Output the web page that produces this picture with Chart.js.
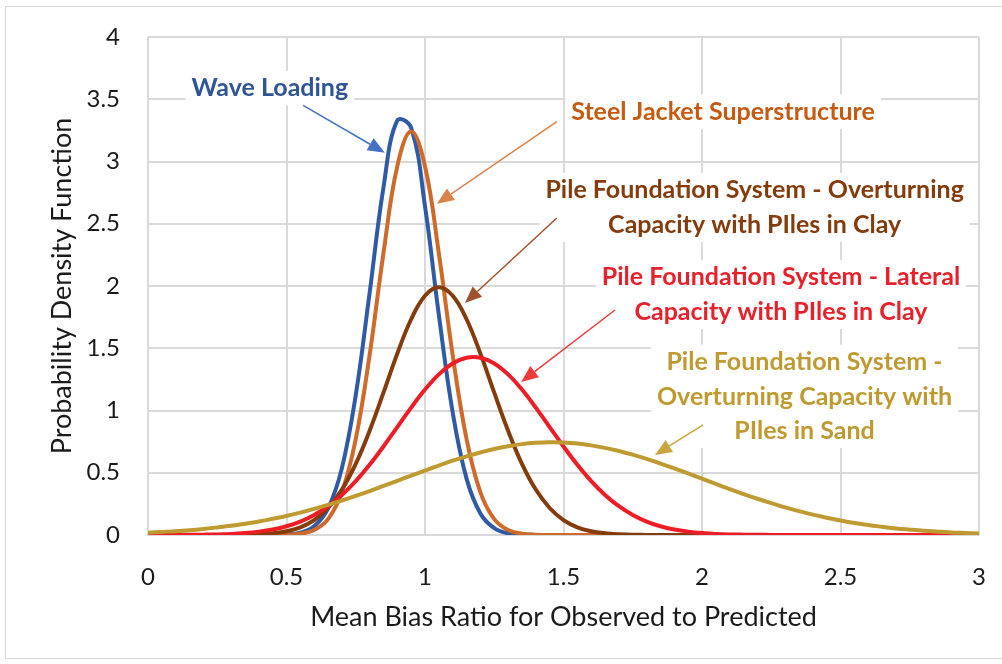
<!DOCTYPE html>
<html>
<head>
<meta charset="utf-8">
<script src="https://cdn.jsdelivr.net/npm/chart.js@4.4.1/dist/chart.umd.min.js"></script>
<style>
  html, body { margin: 0; padding: 0; background: #fff; }
  #wrap { width: 1002px; height: 664px; }
</style>
</head>
<body>
<div id="wrap"><canvas id="chart" width="1002" height="664"></canvas></div>
<script>
// x positions (Mean Bias Ratio), shared by every curve
const xValues = [
  0, 0.05, 0.1, 0.15, 0.2, 0.25, 0.3, 0.35, 0.4, 0.45,
  0.5, 0.55, 0.6, 0.65, 0.7, 0.75, 0.8, 0.85, 0.9, 0.95,
  1, 1.05, 1.1, 1.15, 1.2, 1.25, 1.3, 1.35, 1.4, 1.45,
  1.5, 1.55, 1.6, 1.65, 1.7, 1.75, 1.8, 1.85, 1.9, 1.95,
  2, 2.05, 2.1, 2.15, 2.2, 2.25, 2.3, 2.35, 2.4, 2.45,
  2.5, 2.55, 2.6, 2.65, 2.7, 2.75, 2.8, 2.85, 2.9, 2.95, 3
];

const waveLoading = [
  0, 0, 0, 0, 0, 0, 0, 0, 0, 0.001,
  0.004, 0.019, 0.07, 0.213, 0.537, 1.123, 1.944, 2.79, 3.33, 3.27,
  2.64, 1.768, 0.984, 0.453, 0.173, 0.055, 0.014, 0.003, 0.001, 0,
  0, 0, 0, 0, 0, 0, 0, 0, 0, 0,
  0, 0, 0, 0, 0, 0, 0, 0, 0, 0,
  0, 0, 0, 0, 0, 0, 0, 0, 0, 0, 0
];

const steelJacket = [
  0, 0, 0, 0, 0, 0, 0, 0, 0, 0,
  0.002, 0.01, 0.04, 0.128, 0.343, 0.77, 1.444, 2.262, 2.962, 3.24,
  2.962, 2.262, 1.444, 0.77, 0.343, 0.128, 0.04, 0.01, 0.002, 0,
  0, 0, 0, 0, 0, 0, 0, 0, 0, 0,
  0, 0, 0, 0, 0, 0, 0, 0, 0, 0,
  0, 0, 0, 0, 0, 0, 0, 0, 0, 0, 0
];

const overturningClay = [
  0, 0, 0, 0, 0, 0, 0.001, 0.002, 0.006, 0.014,
  0.03, 0.062, 0.12, 0.217, 0.365, 0.572, 0.837, 1.143, 1.457, 1.733,
  1.922, 1.99, 1.922, 1.733, 1.457, 1.143, 0.837, 0.572, 0.365, 0.217,
  0.12, 0.062, 0.03, 0.014, 0.006, 0.002, 0.001, 0, 0, 0,
  0, 0, 0, 0, 0, 0, 0, 0, 0, 0,
  0, 0, 0, 0, 0, 0, 0, 0, 0, 0, 0
];

const lateralClay = [
  0, 0, 0.001, 0.002, 0.003, 0.005, 0.009, 0.016, 0.027, 0.044,
  0.07, 0.108, 0.161, 0.231, 0.322, 0.433, 0.564, 0.711, 0.867, 1.023,
  1.168, 1.29, 1.378, 1.424, 1.424, 1.378, 1.29, 1.168, 1.023, 0.867,
  0.711, 0.564, 0.433, 0.322, 0.231, 0.161, 0.108, 0.07, 0.044, 0.027,
  0.016, 0.009, 0.005, 0.003, 0.002, 0.001, 0, 0, 0, 0,
  0, 0, 0, 0, 0, 0, 0, 0, 0, 0, 0
];

const overturningSand = [
  0.019, 0.025, 0.031, 0.039, 0.049, 0.061, 0.074, 0.09, 0.108, 0.13,
  0.153, 0.18, 0.21, 0.242, 0.277, 0.314, 0.353, 0.394, 0.435, 0.477,
  0.518, 0.558, 0.597, 0.632, 0.663, 0.691, 0.713, 0.73, 0.74, 0.745,
  0.743, 0.735, 0.72, 0.7, 0.675, 0.645, 0.611, 0.574, 0.535, 0.494,
  0.452, 0.41, 0.369, 0.329, 0.291, 0.256, 0.222, 0.192, 0.164, 0.139,
  0.117, 0.097, 0.08, 0.066, 0.053, 0.043, 0.034, 0.027, 0.021, 0.017, 0.013
];

const seriesNames = [
  'Wave Loading',
  'Steel Jacket Superstructure',
  'Pile Foundation System - Overturning Capacity with PIles in Clay',
  'Pile Foundation System - Lateral Capacity with PIles in Clay',
  'Pile Foundation System - Overturning Capacity with PIles in Sand'
];
const seriesValues = [waveLoading, steelJacket, overturningClay, lateralClay, overturningSand];
const lineColors = ['#2f5ba6', '#cf6a2a', '#843c0c', '#ee1d25', '#bf9a30'];

// callout labels (lines of text) for each curve
const calloutText = [
  ['Wave Loading'],
  ['Steel Jacket Superstructure'],
  ['Pile Foundation System - Overturning', 'Capacity with PIles in Clay'],
  ['Pile Foundation System - Lateral', 'Capacity with PIles in Clay'],
  ['Pile Foundation System -', 'Overturning Capacity with', 'PIles in Sand']
];

// where the callouts sit, in axis units: text centre, arrow start, arrow tip
const calloutPlaces = [
  { tx: 0.44, ty: 3.59, ax: 0.56, ay: 3.45, bx: 0.855, by: 3.07 },
  { tx: 2.076, ty: 3.40, ax: 1.476, ay: 3.32, bx: 1.043, by: 2.66 },
  { tx: 2.19, ty: 2.77, ax: 1.476, ay: 2.546, bx: 1.144, by: 1.863 },
  { tx: 2.285, ty: 2.07, ax: 1.686, ay: 1.807, bx: 1.347, by: 1.229 },
  { tx: 2.37, ty: 1.39, ax: 2.004, ay: 0.884, bx: 1.83, by: 0.643 }
];
const textColors = ['#2f5597', '#c55a11', '#843c0c', '#e8202a', '#bf9a30'];
const arrowColors = ['#4472c4', '#d9834a', '#a0522d', '#ee3a3a', '#c9a640'];

const datasets = seriesValues.map((vals, i) => ({
  label: seriesNames[i],
  data: xValues.map((x, j) => ({ x: x, y: vals[j] })),
  borderColor: lineColors[i],
  borderWidth: 4,
  pointRadius: 0,
  fill: false,
  tension: 0.4,
  order: seriesValues.length - i
}));

const frame = {
  id: 'frame',
  beforeDraw(chart) {
    const ctx = chart.ctx;
    ctx.save();
    ctx.fillStyle = '#fff';
    ctx.fillRect(0, 0, chart.width, chart.height);
    ctx.strokeStyle = '#d9d9d9';
    ctx.lineWidth = 1;
    ctx.strokeRect(5.5, 6.5, chart.width + 20, 652);
    ctx.restore();
  }
};

const callouts = {
  id: 'callouts',
  afterDatasetsDraw(chart) {
    const ctx = chart.ctx;
    const xs = chart.scales.x, ys = chart.scales.y;
    const lineH = 34.5;
    ctx.save();
    ctx.font = 'bold 25px Lato';
    ctx.textAlign = 'center';
    ctx.textBaseline = 'middle';
    calloutPlaces.forEach((p, i) => {
      const lines = calloutText[i];
      const cx = xs.getPixelForValue(p.tx);
      const cy = ys.getPixelForValue(p.ty);
      // white box behind the text
      let w = 0;
      lines.forEach(t => { w = Math.max(w, ctx.measureText(t).width); });
      ctx.fillStyle = '#fff';
      ctx.fillRect(cx - w / 2 - 6, cy - lineH / 2, w + 12, lineH * lines.length);
      ctx.fillStyle = textColors[i];
      lines.forEach((t, k) => ctx.fillText(t, cx, cy + k * lineH));

      // arrow
      const x1 = xs.getPixelForValue(p.ax), y1 = ys.getPixelForValue(p.ay);
      const x2 = xs.getPixelForValue(p.bx), y2 = ys.getPixelForValue(p.by);
      const ang = Math.atan2(y2 - y1, x2 - x1);
      const headLen = 17, headW = 7;
      ctx.strokeStyle = arrowColors[i];
      ctx.fillStyle = arrowColors[i];
      ctx.lineWidth = 1.5;
      ctx.beginPath();
      ctx.moveTo(x1, y1);
      ctx.lineTo(x2 - Math.cos(ang) * headLen, y2 - Math.sin(ang) * headLen);
      ctx.stroke();
      ctx.beginPath();
      ctx.moveTo(x2, y2);
      ctx.lineTo(x2 - Math.cos(ang) * headLen - Math.sin(ang) * headW,
                 y2 - Math.sin(ang) * headLen + Math.cos(ang) * headW);
      ctx.lineTo(x2 - Math.cos(ang) * headLen + Math.sin(ang) * headW,
                 y2 - Math.sin(ang) * headLen - Math.cos(ang) * headW);
      ctx.closePath();
      ctx.fill();
    });
    ctx.restore();
  }
};

Chart.defaults.font.family = 'Lato';
Chart.defaults.color = '#1a1a1a';

new Chart(document.getElementById('chart').getContext('2d'), {
  type: 'line',
  data: { datasets: datasets },
  options: {
    responsive: false,
    animation: false,
    devicePixelRatio: 1,
    layout: { padding: { left: 0, right: 23, top: 37, bottom: 0 } },
    plugins: { legend: { display: false }, tooltip: { enabled: false } },
    scales: {
      x: {
        type: 'linear',
        min: 0,
        max: 3,
        ticks: { stepSize: 0.5, padding: 28, font: { size: 24 }, maxRotation: 0, callback: v => String(v) },
        grid: { color: '#d9d9d9', lineWidth: 2, drawTicks: false },
        border: { color: '#d9d9d9', width: 2 },
        title: {
          display: true,
          text: 'Mean Bias Ratio for Observed to Predicted',
          font: { size: 27 },
          padding: { top: 0, bottom: 31 }
        },
        afterFit(scale) {
          scale.height = 129;
          scale.paddingLeft = 0;
          scale.paddingRight = 0;
        }
      },
      y: {
        type: 'linear',
        min: 0,
        max: 4,
        ticks: { stepSize: 0.5, padding: 28, font: { size: 24 }, callback: v => String(v) },
        grid: { color: '#d9d9d9', lineWidth: 2, drawTicks: false },
        border: { color: '#d9d9d9', width: 2 },
        title: {
          display: true,
          text: 'Probability Density Function',
          font: { size: 27 },
          padding: { top: 46, bottom: 0 }
        },
        afterFit(scale) {
          scale.width = 148;
          scale.paddingTop = 0;
          scale.paddingBottom = 0;
        }
      }
    }
  },
  plugins: [frame, callouts]
});
</script>
</body>
</html>
